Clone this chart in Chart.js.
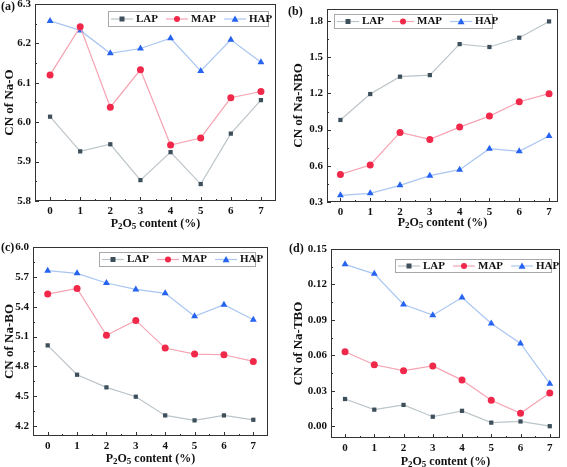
<!DOCTYPE html>
<html>
<head>
<meta charset="utf-8">
<script src="https://cdn.jsdelivr.net/npm/chart.js@4.4.1/dist/chart.umd.min.js"></script>
<style>
    body { margin: 0; background: #fff; }
    #wrap { position: relative; width: 567px; height: 467px; overflow: hidden; }
    canvas { position: absolute; }
</style>
</head>
<body>
<div id="wrap">
    <canvas id="chartA" width="283" height="233" style="left:0;top:0"></canvas>
    <canvas id="chartB" width="284" height="233" style="left:283px;top:0"></canvas>
    <canvas id="chartC" width="283" height="234" style="left:0;top:233px"></canvas>
    <canvas id="chartD" width="284" height="234" style="left:283px;top:233px"></canvas>
</div>
<script>
// P2O5 content (%)
const xValues = [0, 1, 2, 3, 4, 5, 6, 7];
const seriesNames = ['LAP', 'MAP', 'HAP'];

// (a) CN of Na-O
const lapNaO = [6.014, 5.926, 5.944, 5.853, 5.924, 5.843, 5.971, 6.056];
const mapNaO = [6.120, 6.242, 6.038, 6.133, 5.942, 5.960, 6.062, 6.078];
const hapNaO = [6.257, 6.233, 6.175, 6.187, 6.213, 6.130, 6.209, 6.152];
const yTicksNaO = [5.8, 5.9, 6.0, 6.1, 6.2, 6.3];

// (b) CN of Na-NBO
const lapNaNBO = [0.980, 1.195, 1.339, 1.352, 1.609, 1.585, 1.662, 1.797];
const mapNaNBO = [0.529, 0.607, 0.877, 0.819, 0.921, 1.012, 1.131, 1.198];
const hapNaNBO = [0.355, 0.372, 0.438, 0.518, 0.568, 0.742, 0.720, 0.847];
const yTicksNaNBO = [0.3, 0.6, 0.9, 1.2, 1.5, 1.8];

// (c) CN of Na-BO
const lapNaBO = [5.011, 4.716, 4.589, 4.495, 4.307, 4.257, 4.307, 4.263];
const mapNaBO = [5.527, 5.584, 5.112, 5.262, 4.984, 4.924, 4.917, 4.850];
const hapNaBO = [5.762, 5.735, 5.638, 5.574, 5.534, 5.303, 5.420, 5.269];
const yTicksNaBO = [4.2, 4.5, 4.8, 5.1, 5.4, 5.7, 6.0];

// (d) CN of Na-TBO
const lapNaTBO = [0.023, 0.014, 0.018, 0.008, 0.013, 0.003, 0.004, 0.000];
const mapNaTBO = [0.063, 0.052, 0.047, 0.051, 0.039, 0.022, 0.011, 0.028];
const hapNaTBO = [0.137, 0.129, 0.103, 0.094, 0.109, 0.087, 0.070, 0.036];
const yTicksNaTBO = [0.00, 0.03, 0.06, 0.09, 0.12, 0.15];

const serif = '"Liberation Serif", "Times New Roman", serif';
const styles = [
    { line: '#bcc5c9', mark: '#3e4f5c', shape: 'rect', r: 3 },
    { line: '#f6a3b2', mark: '#f0284a', shape: 'circle', r: 3.5 },
    { line: '#a9c6f2', mark: '#2563f0', shape: 'triangle', r: 4 },
];

function drawMarker(ctx, shape, x, y, r, color) {
    ctx.fillStyle = color;
    ctx.beginPath();
    if (shape === 'rect') {
        ctx.rect(x - r, y - r, r * 2, r * 2);
    } else if (shape === 'circle') {
        ctx.arc(x, y, r, 0, Math.PI * 2);
    } else {
        ctx.moveTo(x, y - r);
        ctx.lineTo(x + r, y + r * 0.75);
        ctx.lineTo(x - r, y + r * 0.75);
        ctx.closePath();
    }
    ctx.fill();
}

// frame, inward ticks, legend, x title with subscripts, panel label
const decor = {
    id: 'decor',
    afterDraw(chart, args, o) {
        const { ctx, chartArea: a, scales: { x, y } } = chart;
        ctx.save();
        ctx.strokeStyle = '#333';
        ctx.lineWidth = 1;
        ctx.strokeRect(a.left + 0.5, a.top + 0.5, a.width - 1, a.height - 1);

        ctx.beginPath();
        xValues.forEach(v => {
            const px = Math.round(x.getPixelForValue(v)) + 0.5;
            ctx.moveTo(px, a.bottom); ctx.lineTo(px, a.bottom - 4);
            const mx = v + 0.5;
            if (mx < x.max) {
                const pm = Math.round(x.getPixelForValue(mx)) + 0.5;
                ctx.moveTo(pm, a.bottom); ctx.lineTo(pm, a.bottom - 2);
            }
        });
        const yt = o.yTicks;
        yt.forEach((v, i) => {
            const py = Math.round(y.getPixelForValue(v)) + 0.5;
            ctx.moveTo(a.left, py); ctx.lineTo(a.left + 4, py);
            const step = yt[1] - yt[0];
            [v - step / 2, v + step / 2].forEach(m => {
                if (m > y.min && m < y.max && (i === 0 || m > v)) {
                    const pm = Math.round(y.getPixelForValue(m)) + 0.5;
                    ctx.moveTo(a.left, pm); ctx.lineTo(a.left + 2, pm);
                }
            });
        });
        ctx.stroke();

        // legend
        const [lx, ly, lw, lh] = o.legend;
        ctx.strokeStyle = '#a8a8a8';
        ctx.strokeRect(lx + 0.5, ly + 0.5, lw, lh);
        ctx.font = 'bold 11px ' + serif;
        ctx.textBaseline = 'middle';
        ctx.textAlign = 'left';
        let cx = lx + 3;
        const cy = ly + lh / 2 + 0.5;
        chart.data.datasets.forEach((ds, i) => {
            const s = styles[i];
            ctx.strokeStyle = s.line;
            ctx.lineWidth = 1.2;
            ctx.beginPath(); ctx.moveTo(cx, cy); ctx.lineTo(cx + 22, cy); ctx.stroke();
            drawMarker(ctx, s.shape, cx + 11, cy, s.r - 0.5, s.mark);
            ctx.fillStyle = '#111';
            ctx.fillText(ds.label, cx + 25, cy);
            cx += 25 + ctx.measureText(ds.label).width + 8;
        });

        // x title: P2O5 content (%)
        ctx.fillStyle = '#111';
        const big = 'bold 12px ' + serif, small = 'bold 9px ' + serif;
        const parts = [['P', big, 0], ['2', small, 3], ['O', big, 0], ['5', small, 3], [' content (%)', big, 0]];
        let tw = 0;
        parts.forEach(p => { ctx.font = p[1]; tw += ctx.measureText(p[0]).width; });
        let tx = (a.left + a.right) / 2 - tw / 2;
        parts.forEach(p => {
            ctx.font = p[1];
            ctx.fillText(p[0], tx, o.xTitleY + p[2]);
            tx += ctx.measureText(p[0]).width;
        });

        // panel label
        ctx.font = 'bold 12px ' + serif;
        ctx.fillText(o.label, o.labelPos[0], o.labelPos[1]);
        ctx.restore();
    }
};

function makeChart(id, p) {
    const canvas = document.getElementById(id);
    const W = canvas.width, H = canvas.height;
    const [left, top, right, bottom] = p.area;
    const tickFont = { family: serif, size: 11, weight: 'bold' };
    const noPad = s => { s.paddingLeft = 0; s.paddingRight = 0; s.paddingTop = 0; s.paddingBottom = 0; };

    const datasets = [p.lap, p.map, p.hap].map((vals, i) => ({
        label: seriesNames[i],
        data: xValues.map((x, j) => ({ x: x, y: vals[j] })),
        borderColor: styles[i].line,
        borderWidth: 1.2,
        pointStyle: styles[i].shape,
        pointRadius: styles[i].r,
        pointBackgroundColor: styles[i].mark,
        pointBorderColor: styles[i].mark,
        pointBorderWidth: 0,
        tension: 0,
        clip: false,
    }));

    return new Chart(canvas.getContext('2d'), {
        type: 'line',
        data: { datasets: datasets },
        options: {
            responsive: false,
            animation: false,
            layout: { padding: { left: 0, top: top, right: W - right, bottom: 0 } },
            plugins: {
                legend: { display: false },
                tooltip: { enabled: false },
                decor: p.decor,
            },
            scales: {
                x: {
                    type: 'linear',
                    min: p.xRange[0],
                    max: p.xRange[1],
                    grid: { display: false, drawTicks: false },
                    border: { display: false },
                    ticks: { font: tickFont, color: '#111', padding: 4, autoSkip: false, maxRotation: 0,
                        callback: v => String(v) },
                    afterBuildTicks: s => { s.ticks = xValues.map(v => ({ value: v })); },
                    afterFit: s => { s.height = H - bottom; noPad(s); },
                },
                y: {
                    min: p.yRange[0],
                    max: p.yRange[1],
                    grid: { display: false, drawTicks: false },
                    border: { display: false },
                    ticks: { font: tickFont, color: '#111', padding: 4, autoSkip: false,
                        callback: v => v.toFixed(p.decimals) },
                    afterBuildTicks: s => { s.ticks = p.decor.yTicks.map(v => ({ value: v })); },
                    afterFit: s => { s.width = left; noPad(s); },
                    title: { display: true, text: p.yTitle, color: '#111',
                        font: { family: serif, size: 13, weight: 'bold' }, padding: { top: p.titlePad, bottom: 0 } },
                },
            },
        },
        plugins: [decor],
    });
}

makeChart('chartA', {
    lap: lapNaO, map: mapNaO, hap: hapNaO, yTitle: 'CN of Na-O', decimals: 1,
    area: [35, 3, 276, 201], xRange: [-0.5, 7.5], yRange: [5.8, 6.3], titlePad: 2,
    decor: { yTicks: yTicksNaO, legend: [108, 11, 160, 15], xTitleY: 224, label: '(a)', labelPos: [1, 7] },
});
makeChart('chartB', {
    lap: lapNaNBO, map: mapNaNBO, hap: hapNaNBO, yTitle: 'CN of Na-NBO', decimals: 1,
    area: [44, 9, 275, 202], xRange: [-0.45, 7.3], yRange: [0.3, 1.9], titlePad: 8,
    decor: { yTicks: yTicksNaNBO, legend: [51, 14, 158, 14], xTitleY: 223, label: '(b)', labelPos: [5, 12] },
});
makeChart('chartC', {
    lap: lapNaBO, map: mapNaBO, hap: hapNaBO, yTitle: 'CN of Na-BO', decimals: 1,
    area: [33, 14, 268, 203], xRange: [-0.5, 7.5], yRange: [4.1, 6.0], titlePad: 2,
    decor: { yTicks: yTicksNaBO, legend: [99, 19, 156, 14], xTitleY: 226, label: '(c)', labelPos: [1, 15] },
});
makeChart('chartD', {
    lap: lapNaTBO, map: mapNaTBO, hap: hapNaTBO, yTitle: 'CN of Na-TBO', decimals: 2,
    area: [48, 16, 277, 205], xRange: [-0.48, 7.35], yRange: [-0.01, 0.15], titlePad: 8,
    decor: { yTicks: yTicksNaTBO, legend: [112, 26, 156, 13], xTitleY: 229, label: '(d)', labelPos: [6, 16] },
});
</script>
</body>
</html>
